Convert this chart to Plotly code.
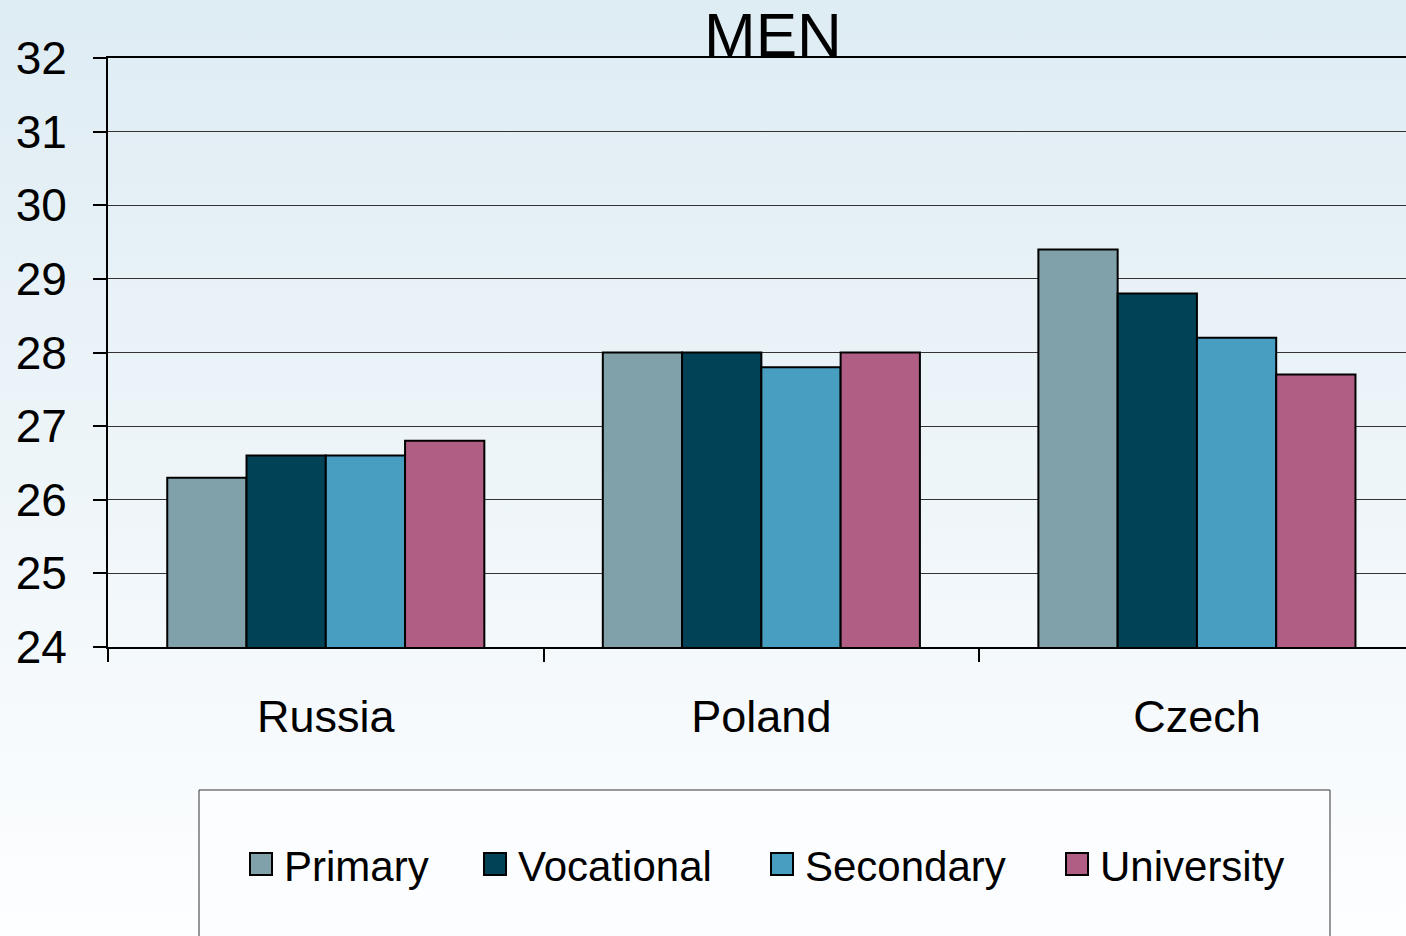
import plotly.graph_objects as go
import urllib.parse

countries = ["Russia", "Poland", "Czech"]
levels = ["Primary", "Vocational", "Secondary", "University"]
primary = [26.3, 28.0, 29.4]
vocational = [26.6, 28.0, 28.8]
secondary = [26.6, 27.8, 28.2]
university = [26.8, 28.0, 27.7]
series = [primary, vocational, secondary, university]
colors = ["#80A1AA", "#024257", "#489EC0", "#B05E84"]
y_ticks = [24, 25, 26, 27, 28, 29, 30, 31, 32]
title_text = "MEN"

FONT = "Liberation Sans, Arial, sans-serif"
W, H = 1406, 936
L, T, PW, PH = 108, 58, 1298, 589


def px(x):
    return (x - L) / PW


def py(y):
    return (T + PH - y) / PH


fig = go.Figure()
for name, vals, col in zip(levels, series, colors):
    fig.add_trace(go.Bar(
        x=countries, y=vals, name=name,
        marker=dict(color=col, line=dict(color="black", width=2)),
        showlegend=False,
    ))

svg = ('<svg xmlns="http://www.w3.org/2000/svg" width="100" height="100" preserveAspectRatio="none">'
       '<defs><linearGradient id="g" x1="0" y1="0" x2="0" y2="1">'
       '<stop offset="0" stop-color="#DEECF3"/><stop offset="1" stop-color="#FDFEFF"/>'
       '</linearGradient></defs><rect width="100" height="100" fill="url(#g)"/></svg>')
src = "data:image/svg+xml;charset=utf-8," + urllib.parse.quote(svg)

shapes = [dict(type="rect", xref="paper", yref="paper",
               x0=px(199), x1=px(1330), y0=py(790), y1=py(960),
               line=dict(color="#333333", width=1), fillcolor="#FCFDFF", layer="above")]
annotations = [dict(text=title_text, xref="paper", yref="paper", x=px(773), y=py(34),
                    xanchor="center", yanchor="middle", showarrow=False,
                    font=dict(family=FONT, size=62, color="black"))]

leg_x = [250, 484, 771, 1066]
for name, col, lx in zip(levels, colors, leg_x):
    shapes.append(dict(type="rect", xref="paper", yref="paper",
                       x0=px(lx), x1=px(lx + 22), y0=py(853), y1=py(875),
                       line=dict(color="black", width=2), fillcolor=col, layer="above"))
    annotations.append(dict(text=name, xref="paper", yref="paper", x=px(lx + 32), y=py(866),
                            xanchor="left", yanchor="middle", showarrow=False,
                            font=dict(family=FONT, size=42, color="black")))

fig.update_layout(
    width=W, height=H,
    margin=dict(l=L, r=W - L - PW, t=T, b=H - T - PH, pad=0),
    paper_bgcolor="white", plot_bgcolor="rgba(0,0,0,0)",
    barmode="group", bargap=0.272, bargroupgap=0,
    font=dict(family=FONT, color="black"),
    images=[dict(source=src, xref="paper", yref="paper", x=px(0), y=py(0),
                 sizex=W / PW, sizey=H / PH, sizing="stretch", layer="below",
                 xanchor="left", yanchor="top")],
    shapes=shapes, annotations=annotations,
    xaxis=dict(range=[-0.5, 2.48], tickson="boundaries", ticks="outside", ticklen=13,
               tickwidth=1.5, tickcolor="black", showline=True, linecolor="black",
               linewidth=2, mirror=True, showgrid=False,
               tickfont=dict(family=FONT, size=45, color="black"), ticklabelstandoff=29),
    yaxis=dict(range=[24, 32], tickvals=y_ticks, ticks="outside", ticklen=13,
               tickwidth=1.5, tickcolor="black", showline=True, linecolor="black",
               linewidth=2, showgrid=True, gridcolor="#333333", gridwidth=1,
               zeroline=False, tickfont=dict(family=FONT, size=46, color="black"),
               ticklabelstandoff=17),
)

fig.write_html("out.html", config={"displayModeBar": False},
               post_script="document.body.style.margin='0';document.body.style.overflow='hidden';")
